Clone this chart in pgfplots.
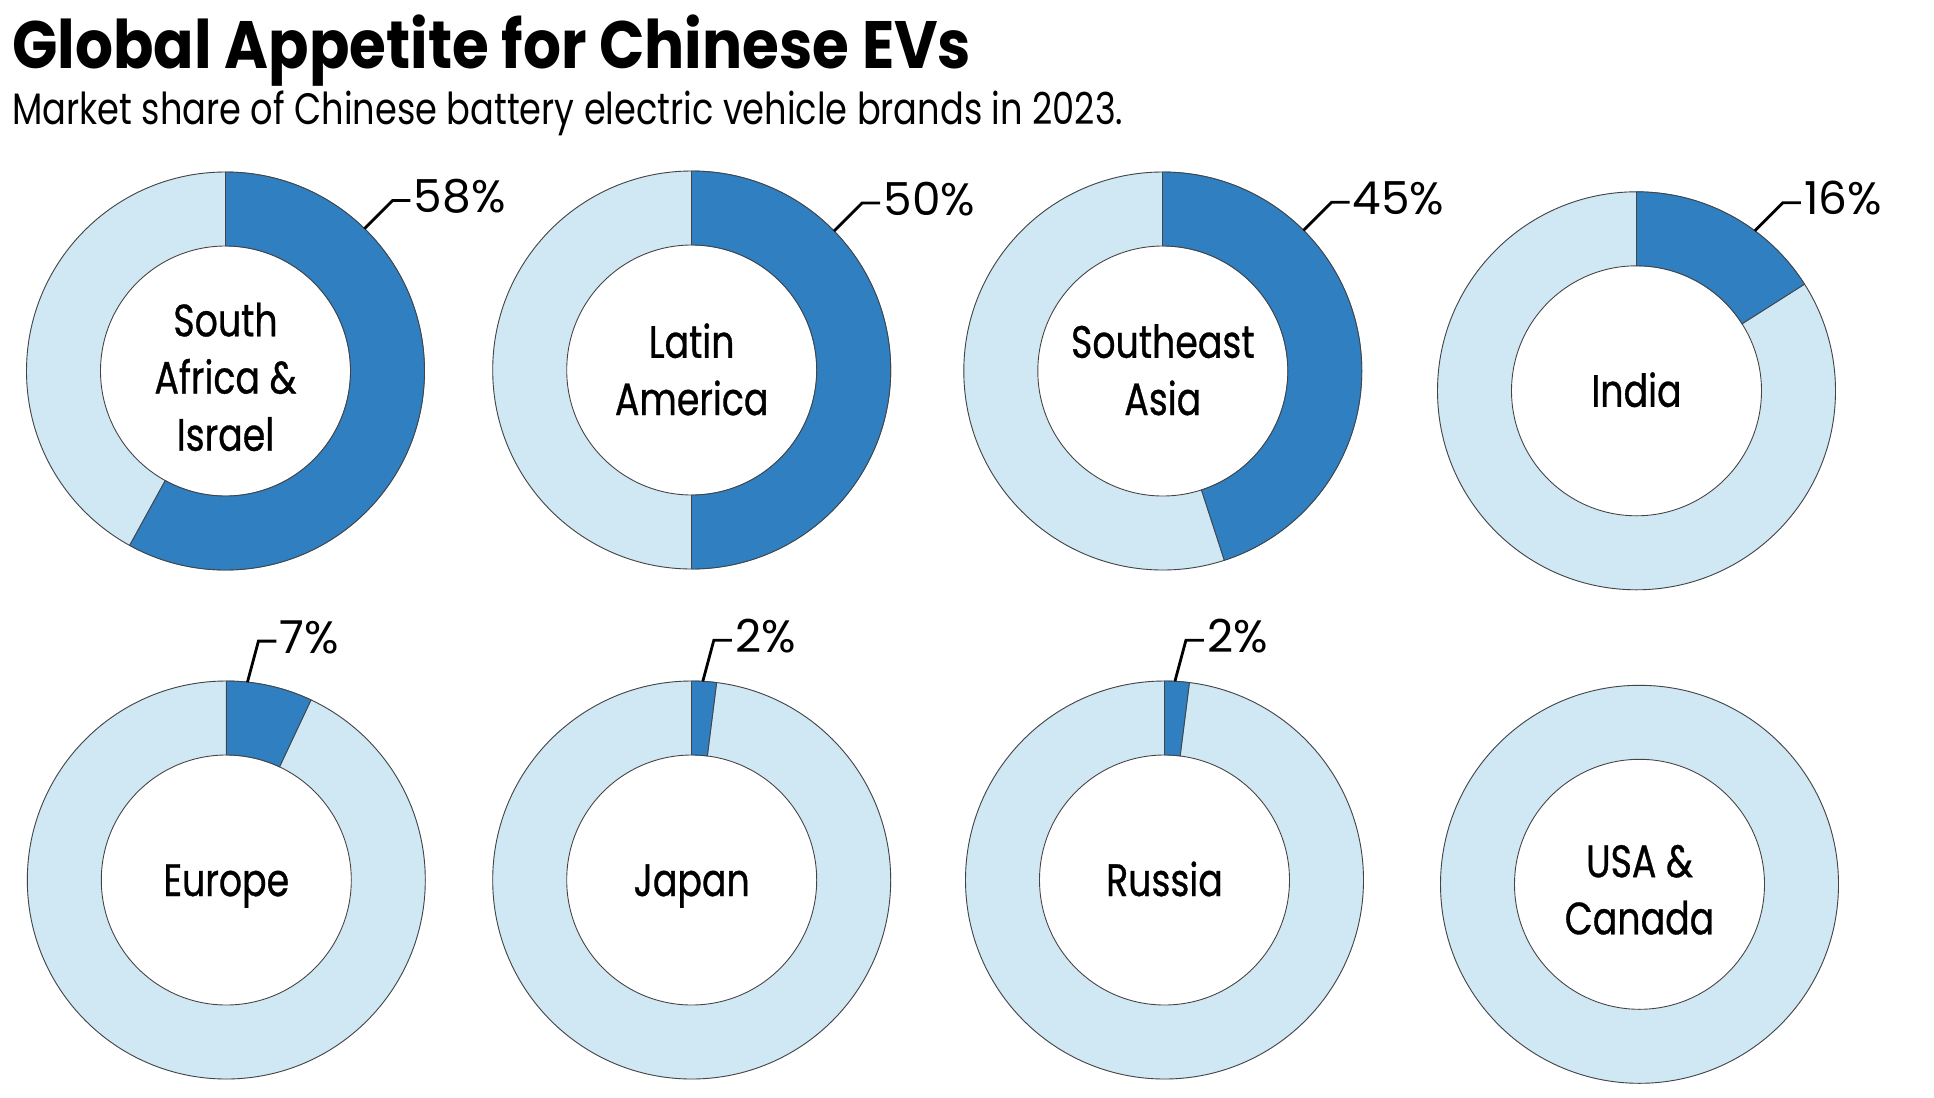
\documentclass[border=0pt]{standalone}
\usepackage{fontspec}
\setmainfont{Poppins}[FakeStretch=0.8]
\newfontfamily\labfamily{Poppins}[FakeStretch=0.8,FakeBold=0.7]
\newfontfamily\titlefamily{Poppins}[FakeStretch=0.89]
\newfontfamily\pctfamily{Poppins}[FakeStretch=1.0]
\usepackage{pgfplots}
\usepackage{pgfplotstable}
\pgfplotsset{compat=1.18}
\definecolor{darkblue}{HTML}{2F7FC1}
\definecolor{lightblue}{HTML}{D0E7F4}
\definecolor{edgegray}{HTML}{444444}
\protected\def\nl{\\}
\newcommand\labfont{\labfamily\fontsize{22.7}{28.6}\selectfont}
\newcommand\pctfont{\pctfamily\fontsize{22.7}{28.6}\selectfont}
\tikzset{edge/.style={draw=edgegray,line width=0.45pt},
  leader/.style={draw=black,line width=1.4pt,line join=miter,line cap=butt}}

% cx, cy: donut centre in pixels of the picture (y downwards); share in %;
% lead = angle of the leader line; kx, ky = knee of the leader (pt); lb = last baseline below centre (px)
\pgfplotstableread{
cx     cy    share lead kx  ky   lb    label
225.5  371   58    44.3 14  14   79.7  {South\nl Africa \&\nl Israel}
691.7  370   50    45.7 14  14   45    {Latin\nl America}
1162.8 371   45    45   14  14   44    {Southeast\nl Asia}
1636.5 390.8 16    36.5 14  14   16    India
226.3  880   7     6.1  5.5 20.5 16    Europe
691.7  880   2     3.2  5.5 20.5 16    Japan
1164.5 880   2     3.0  5.5 20.5 16    Russia
1639.5 884.3 0     0    0   0    50    {USA \&\nl Canada}
}\data

\pgfdeclareplotmark{donut}{%
  \fill[lightblue] (0,0) circle[radius=99.5pt];
  \fill[white] (0,0) circle[radius=62.5pt];
  \ifdim\dshare pt>0.1pt
    \fill[darkblue] (90:99.5pt) arc[start angle=90,end angle={90-3.6*\dshare},radius=99.5pt]
      -- ({90-3.6*\dshare}:62.5pt) arc[start angle={90-3.6*\dshare},end angle=90,radius=62.5pt] -- cycle;
    \draw[edge] (90:62.5pt) -- (90:99.5pt);
    \draw[edge] ({90-3.6*\dshare}:62.5pt) -- ({90-3.6*\dshare}:99.5pt);
  \fi
  \draw[edge] (0,0) circle[radius=99.5pt];
  \draw[edge] (0,0) circle[radius=62.5pt];
  \ifdim\dshare pt>0.1pt
    \draw[leader] ({90-\dlead}:99.5pt) -- ++(\dkx pt,\dky pt) -- ++(9pt,0)
      node[anchor=base west,inner sep=0pt,xshift=1pt,yshift=-6pt,font=\pctfont,text=black]
      {\pgfmathprintnumber[fixed,precision=0,assume math mode=true]{\dshare}\%};
  \fi
  \node[align=center,anchor=base,font=\labfont,text=black,inner sep=0pt] at (0pt,{-0.5*\dlb pt}) {\pgfplotspointmeta};
}

\begin{document}
\begin{tikzpicture}
\begin{axis}[
  x=0.5pt, y=0.5pt,
  xmin=0, xmax=1934, ymin=0, ymax=1098,
  y dir=reverse,
  hide axis, clip=false,
]
\path (axis cs:0,0) rectangle (axis cs:1934,1098);
\addplot[scatter, only marks, mark=donut,
  point meta=explicit symbolic,
  scatter/@pre marker code/.code={},
  scatter/@post marker code/.code={},
  visualization depends on={\thisrow{share}\as\dshare},
  visualization depends on={\thisrow{lead}\as\dlead},
  visualization depends on={\thisrow{kx}\as\dkx},
  visualization depends on={\thisrow{ky}\as\dky},
  visualization depends on={\thisrow{lb}\as\dlb},
] table[x=cx, y=cy, meta=label] {\data};
\node[anchor=base west, inner sep=0pt, font=\titlefamily\fontsize{33.5}{36}\selectfont\bfseries] at (axis cs:12,68.3) {Global Appetite for Chinese EVs};
\node[anchor=base west, inner sep=0pt, font=\fontsize{22}{26}\selectfont] at (axis cs:12,124) {Market share of Chinese battery electric vehicle brands in 2023.};
\end{axis}
\end{tikzpicture}
\end{document}
